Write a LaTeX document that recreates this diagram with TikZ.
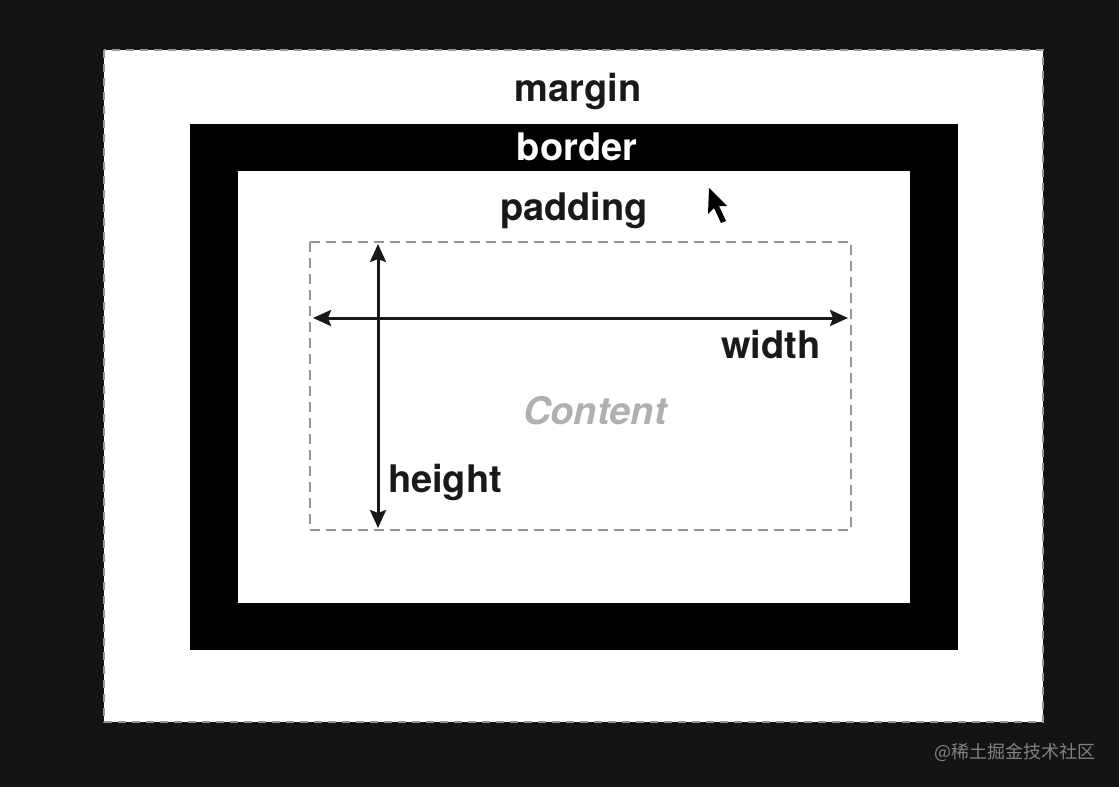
\documentclass[tikz,border=0pt]{standalone}
\usepackage{fontspec}
\setmainfont{TeX Gyre Heros}
\newfontfamily\cjkfont{Noto Sans CJK SC}
\usetikzlibrary{arrows.meta}
\definecolor{bg}{RGB}{20,20,22}
\definecolor{dashgray}{RGB}{150,150,150}
\definecolor{contentgray}{RGB}{176,176,176}
\definecolor{wmgray}{RGB}{130,130,130}
\definecolor{ink}{RGB}{25,25,25}
\tikzset{
  lbl/.style={font=\fontsize{38}{40}\selectfont\bfseries, inner sep=0pt, anchor=base, text=ink},
  dimarrow/.style={line width=3pt, draw=ink, {Stealth[length=18pt,width=16pt,inset=3pt]}-{Stealth[length=18pt,width=16pt,inset=3pt]}},
}
\begin{document}
\begin{tikzpicture}[x=1pt,y=-1pt]
\useasboundingbox (0,0) rectangle (1119,787);
\fill[bg] (0,0) rectangle (1119,787);
% margin box
\fill[white] (104,50) rectangle (1043,722);
\draw[dashgray, line width=2pt, dash pattern=on 8pt off 6pt] (104,50) rectangle (1043,722);
% border
\fill[black] (190,124) rectangle (958,650);
% padding
\fill[white] (238,171) rectangle (910,603);
% content box
\draw[dashgray, line width=1.5pt, dash pattern=on 10pt off 6pt] (310,242) rectangle (851,530);
% coordinates for arrows
\coordinate (wl) at (313,318);
\coordinate (wr) at (848,318);
\coordinate (ht) at (378,244);
\coordinate (hb) at (378,528);
\draw[dimarrow] (wl) -- (wr);
\draw[dimarrow] (ht) -- (hb);
% labels
\node[lbl] (margin) at (578,101) {margin};
\node[lbl, text=white] (border) at (577,160) {border};
\node[lbl] (padding) at (574,220) {padding};
\node[lbl] (width) at (771,358) {width};
\node[lbl, text=contentgray, font=\fontsize{38}{40}\selectfont\bfseries\itshape] (content) at (595,424) {Content};
\node[lbl] (height) at (445,492) {height};
% cursor
\fill[black] (709,188) -- (708,214) -- (714,208) -- (721,223) -- (726,221) -- (719,206) -- (727,206) -- cycle;
% watermark
\node[text=wmgray, font=\cjkfont\fontsize{18}{20}\selectfont, inner sep=0pt, anchor=west] (wm) at (934,752) {@稀土掘金技术社区};
\end{tikzpicture}
\end{document}
